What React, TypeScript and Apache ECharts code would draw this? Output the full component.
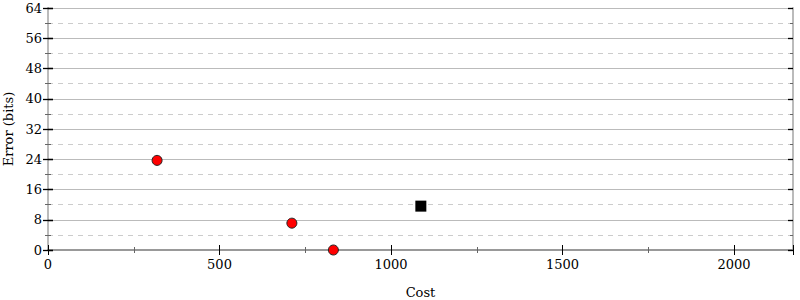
import React, { useEffect, useRef } from "react";
import * as echarts from "echarts";

const redPoints: [number, number][] = [
  [318, 23.7],
  [711, 7.1],
  [832, 0],
];
const blackPoints: [number, number][] = [[1087, 11.6]];

const xTicks = [0, 500, 1000, 1500, 2000];
const xMax = 2172;
const yTicks = [0, 8, 16, 24, 32, 40, 48, 56, 64];

const FONT = "DejaVu Serif";

export default function App() {
  const ref = useRef<HTMLDivElement>(null);
  useEffect(() => {
    const chart = echarts.init(ref.current!, null, { renderer: "svg" });
    const yBase = (pos: "left" | "right", inside: boolean, main: boolean) => ({
      type: "value",
      position: pos,
      offset: 0,
      min: yTicks[0],
      max: yTicks[yTicks.length - 1],
      interval: 8,
      name: main ? "Error (bits)" : "",
      nameLocation: "middle",
      nameGap: 33,
      nameTextStyle: { fontFamily: FONT, fontSize: 13, color: "#000" },
      axisLine: { show: true, lineStyle: { color: "#bbb", width: 2 } },
      axisTick: { show: true, inside, length: 5, lineStyle: { color: "#000", width: 1.3 } },
      minorTick: { show: true, splitNumber: 2, length: 3, lineStyle: { color: "#666" } },
      axisLabel: {
        show: main,
        fontFamily: FONT,
        fontSize: 13,
        color: "#000",
        margin: 6,
        formatter: (v: number) => String(v),
      },
      splitLine: { show: main, lineStyle: { color: "#bbb", width: 1 } },
      minorSplitLine: { show: main, lineStyle: { color: "#ccc", type: [5, 5], width: 1 } },
    });
    const xBase = (inside: boolean, main: boolean) => ({
      type: "value",
      position: "bottom",
      offset: 0,
      min: xTicks[0],
      max: xMax,
      interval: 500,
      name: main ? "Cost" : "",
      nameLocation: "middle",
      nameGap: 36,
      nameTextStyle: { fontFamily: FONT, fontSize: 13, color: "#000" },
      axisLine: { show: true, lineStyle: { color: "#999", width: 2 } },
      axisTick: { show: true, inside, length: 5, lineStyle: { color: "#000", width: 1 } },
      minorTick: { show: true, splitNumber: 2, length: 3, lineStyle: { color: "#666" } },
      axisLabel: {
        show: main,
        fontFamily: FONT,
        fontSize: 13,
        color: "#000",
        margin: 8,
        showMaxLabel: false,
        formatter: (v: number) => String(v),
      },
      splitLine: { show: false },
    });
    chart.setOption({
      animation: false,
      backgroundColor: "#fff",
      grid: { left: 48, right: 7, top: 8, bottom: 50, outerBoundsMode: "none", containLabel: false },
      xAxis: [
        xBase(false, true),
        xBase(true, false),
        {
          type: "value",
          position: "top",
          min: 0,
          max: xMax,
          axisLine: { show: true, lineStyle: { color: "#999", width: 2 } },
          axisTick: { show: false },
          axisLabel: { show: false },
          splitLine: { show: false },
        },
      ],
      yAxis: [
        yBase("left", false, true),
        yBase("left", true, false),
        yBase("right", false, false),
        yBase("right", true, false),
      ],
      series: [
        {
          type: "scatter",
          data: redPoints,
          symbol: "circle",
          symbolSize: 10,
          itemStyle: { color: "#ff0000", borderColor: "#222", borderWidth: 1, opacity: 1 },
          xAxisIndex: 0,
          yAxisIndex: 0,
          z: 5,
        },
        {
          type: "scatter",
          data: blackPoints,
          symbol: "rect",
          symbolSize: 11,
          itemStyle: { color: "#000", opacity: 1 },
          xAxisIndex: 0,
          yAxisIndex: 0,
          z: 5,
        },
      ],
    });
    return () => chart.dispose();
  }, []);
  return (
    <div
      ref={ref}
      style={{ position: "fixed", left: 0, top: 0, width: 800, height: 300 }}
    />
  );
}
